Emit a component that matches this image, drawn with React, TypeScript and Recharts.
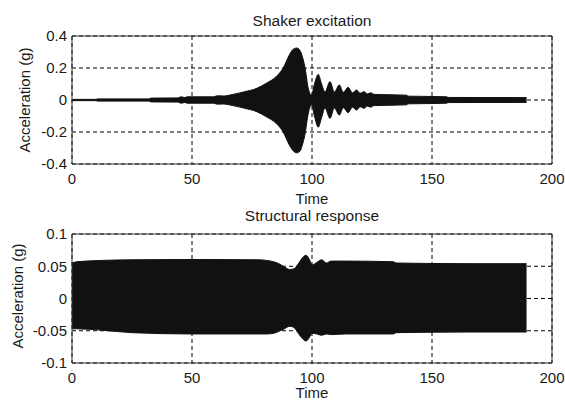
import React from 'react';
import { ComposedChart, Area, XAxis, YAxis, CartesianGrid, ReferenceArea } from 'recharts';

// Shaker excitation: envelope of the oscillating signal (upper / lower)
const excitationTime = [0, 10, 10.5, 32, 33, 44, 45.5, 47, 48, 59, 60.5, 63, 67, 72, 77, 81, 85, 88, 90.5, 92, 93.6, 95, 96, 97, 98.5, 99.8, 101, 102.6, 104, 105.4, 107.5, 109.3, 111.4, 113, 115.1, 116.8, 118.6, 120, 121.7, 123, 124.4, 126, 132, 139.5, 140, 150, 156, 157, 189.4];
const excitationUpper = [0.004, 0.004, 0.007, 0.007, 0.012, 0.013, 0.02, 0.015, 0.02, 0.02, 0.026, 0.025, 0.035, 0.052, 0.073, 0.105, 0.145, 0.2, 0.28, 0.315, 0.325, 0.31, 0.27, 0.21, 0.07, 0.03, 0.1, 0.16, 0.1, 0.05, 0.115, 0.05, 0.094, 0.048, 0.079, 0.045, 0.063, 0.042, 0.052, 0.038, 0.045, 0.035, 0.033, 0.03, 0.024, 0.022, 0.02, 0.016, 0.015];
const excitationLower = [-0.004, -0.004, -0.007, -0.007, -0.012, -0.013, -0.02, -0.015, -0.02, -0.02, -0.026, -0.025, -0.035, -0.052, -0.073, -0.105, -0.145, -0.2, -0.28, -0.315, -0.33, -0.32, -0.28, -0.22, -0.08, -0.03, -0.1, -0.17, -0.11, -0.05, -0.115, -0.05, -0.094, -0.048, -0.079, -0.045, -0.063, -0.042, -0.052, -0.038, -0.045, -0.035, -0.033, -0.03, -0.024, -0.022, -0.02, -0.016, -0.015];

// Structural response envelope
const responseTime = [0, 2, 12, 25, 50, 78, 81, 84, 86.7, 88, 90.8, 92.5, 94.5, 96, 97.5, 99, 100, 102, 104, 106, 108, 114, 134, 135, 165, 189.4];
const responseUpper = [0.055, 0.057, 0.059, 0.06, 0.0605, 0.06, 0.059, 0.057, 0.053, 0.05, 0.045, 0.046, 0.055, 0.063, 0.067, 0.06, 0.052, 0.056, 0.06, 0.055, 0.058, 0.058, 0.057, 0.055, 0.054, 0.054];
const responseLower = [-0.047, -0.047, -0.049, -0.053, -0.055, -0.055, -0.055, -0.054, -0.05, -0.048, -0.043, -0.045, -0.055, -0.062, -0.066, -0.06, -0.054, -0.055, -0.057, -0.055, -0.056, -0.055, -0.055, -0.053, -0.052, -0.052];

const timeTicks = [0, 50, 100, 150, 200];
const excitationTicks = [-0.4, -0.2, 0, 0.2, 0.4];
const responseTicks = [-0.1, -0.05, 0, 0.05, 0.1];

const titles = ['Shaker excitation', 'Structural response'];
const xLabel = 'Time';
const yLabel = 'Acceleration (g)';

const FONT = '"Liberation Sans", Arial, sans-serif';
const TEXT = '#1a1a1a';

const excitationData = excitationTime.map((t, i) => ({ t, band: [excitationLower[i], excitationUpper[i]] }));
const responseData = responseTime.map((t, i) => ({ t, band: [responseLower[i], responseUpper[i]] }));

const XTick = (props: any) => {
  const { x, y, payload } = props;
  return (
    <text x={x} y={y + 19.5} textAnchor="middle" fontSize={15} fontFamily={FONT} fill={TEXT}>
      {String(payload.value)}
    </text>
  );
};

const YTick = (props: any) => {
  const { x, y, payload } = props;
  return (
    <text x={x - 5} y={y} dy="0.36em" textAnchor="end" fontSize={15} fontFamily={FONT} fill={TEXT}>
      {String(payload.value)}
    </text>
  );
};

const Panel = ({ data, ticks, domain, top, bottomH }: any) => (
  <ComposedChart width={565} height={200} data={data} margin={{ top, right: 13, bottom: 0, left: 0 }}>
    <CartesianGrid stroke="#000" strokeDasharray="4 3" strokeWidth={1} />
    <XAxis
      dataKey="t"
      type="number"
      domain={[0, 200]}
      ticks={timeTicks}
      tickLine={false}
      axisLine={false}
      tickSize={0}
      tickMargin={0}
      height={bottomH}
      tick={<XTick />}
      interval={0}
    />
    <YAxis
      type="number"
      domain={domain}
      ticks={ticks}
      tickLine={false}
      axisLine={false}
      tickSize={0}
      tickMargin={0}
      width={72}
      tick={<YTick />}
      interval={0}
      allowDataOverflow
    />
    <Area
      type="monotone"
      dataKey="band"
      stroke="#111"
      strokeWidth={1}
      fill="#111"
      fillOpacity={1}
      isAnimationActive={false}
      dot={false}
      activeDot={false}
    />
    <ReferenceArea x1={0} x2={200} y1={domain[0]} y2={domain[1]} fill="none" stroke="#333" strokeWidth={1} ifOverflow="visible" />
  </ComposedChart>
);

export default function App() {
  return (
    <div style={{ position: 'absolute', left: 0, top: 0, width: 565, height: 400, background: '#fff', fontFamily: FONT }}>
      <div style={{ position: 'absolute', left: 0, top: 0 }}>
        <Panel data={excitationData} ticks={excitationTicks} domain={[-0.4, 0.4]} top={36} bottomH={36} />
      </div>
      <div style={{ position: 'absolute', left: 0, top: 200 }}>
        <Panel data={responseData} ticks={responseTicks} domain={[-0.1, 0.1]} top={34} bottomH={37} />
      </div>
      <svg width={565} height={400} style={{ position: 'absolute', left: 0, top: 0, pointerEvents: 'none' }}>
        <text x={312} y={26} textAnchor="middle" fontSize={15.5} fontFamily={FONT} fill={TEXT}>{titles[0]}</text>
        <text x={312} y={204} textAnchor="middle" fontSize={15} fontFamily={FONT} fill={TEXT}>{xLabel}</text>
        <text x={25} y={100} textAnchor="middle" dy="0.36em" fontSize={15} fontFamily={FONT} fill={TEXT} transform="rotate(-90 25 100)">{yLabel}</text>
        <text x={312} y={221} textAnchor="middle" fontSize={15.5} fontFamily={FONT} fill={TEXT}>{titles[1]}</text>
        <text x={312} y={398} textAnchor="middle" fontSize={15} fontFamily={FONT} fill={TEXT}>{xLabel}</text>
        <text x={18} y={296} textAnchor="middle" dy="0.36em" fontSize={15} fontFamily={FONT} fill={TEXT} transform="rotate(-90 18 296)">{yLabel}</text>
      </svg>
    </div>
  );
}
